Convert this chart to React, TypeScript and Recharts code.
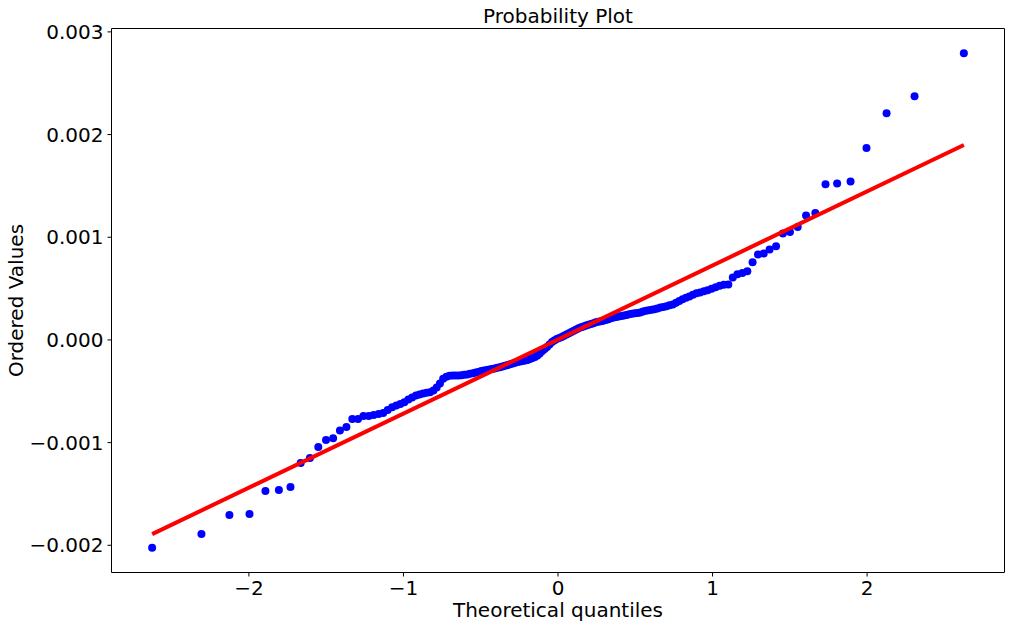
import { Label, Scatter, ScatterChart, XAxis, YAxis } from 'recharts';

// theoretical quantiles (x) and ordered values (y)
const QUANTILES = [
  -2.626, -2.307, -2.126, -1.996, -1.893, -1.806, -1.731, -1.665, -1.605, -1.551,
  -1.501, -1.455, -1.411, -1.369, -1.331, -1.294, -1.259, -1.225, -1.193, -1.161,
  -1.131, -1.102, -1.073, -1.046, -1.02, -0.994, -0.968, -0.944, -0.919, -0.896,
  -0.873, -0.85, -0.828, -0.806, -0.785, -0.764, -0.743, -0.722, -0.702, -0.682,
  -0.663, -0.643, -0.624, -0.606, -0.587, -0.569, -0.55, -0.532, -0.515, -0.497,
  -0.479, -0.461, -0.444, -0.427, -0.41, -0.393, -0.376, -0.359, -0.342, -0.326,
  -0.31, -0.293, -0.277, -0.261, -0.245, -0.229, -0.213, -0.197, -0.181, -0.165,
  -0.149, -0.133, -0.118, -0.102, -0.086, -0.071, -0.055, -0.039, -0.024, -0.008,
  0.008, 0.024, 0.039, 0.055, 0.071, 0.086, 0.102, 0.118, 0.133, 0.149,
  0.165, 0.181, 0.197, 0.213, 0.229, 0.245, 0.261, 0.277, 0.293, 0.31,
  0.326, 0.342, 0.359, 0.376, 0.393, 0.41, 0.427, 0.444, 0.461, 0.479,
  0.497, 0.515, 0.532, 0.55, 0.569, 0.587, 0.606, 0.624, 0.643, 0.663,
  0.682, 0.702, 0.722, 0.743, 0.764, 0.785, 0.806, 0.828, 0.85, 0.873,
  0.896, 0.919, 0.944, 0.968, 0.994, 1.02, 1.046, 1.073, 1.102, 1.131,
  1.161, 1.193, 1.225, 1.259, 1.294, 1.331, 1.369, 1.411, 1.455, 1.501,
  1.551, 1.605, 1.665, 1.731, 1.806, 1.893, 1.996, 2.126, 2.307, 2.626,
];

const ORDERED_VALUES = [
  -2.024e-3, -1.891e-3, -1.705e-3, -1.696e-3, -1.471e-3, -1.461e-3, -1.432e-3, -1.198e-3, -1.149e-3, -1.042e-3,
  -0.974e-3, -0.958e-3, -0.883e-3, -0.847e-3, -0.769e-3, -0.769e-3, -0.74e-3, -0.74e-3, -0.73e-3, -0.722e-3,
  -0.712e-3, -0.683e-3, -0.656e-3, -0.639e-3, -0.624e-3, -0.607e-3, -0.58e-3, -0.561e-3, -0.541e-3, -0.532e-3,
  -0.522e-3, -0.515e-3, -0.509e-3, -0.493e-3, -0.463e-3, -0.424e-3, -0.379e-3, -0.359e-3, -0.349e-3, -0.346e-3,
  -0.346e-3, -0.346e-3, -0.343e-3, -0.34e-3, -0.337e-3, -0.33e-3, -0.324e-3, -0.317e-3, -0.312e-3, -0.302e-3,
  -0.298e-3, -0.293e-3, -0.288e-3, -0.283e-3, -0.278e-3, -0.271e-3, -0.265e-3, -0.259e-3, -0.252e-3, -0.244e-3,
  -0.236e-3, -0.229e-3, -0.222e-3, -0.215e-3, -0.21e-3, -0.205e-3, -0.2e-3, -0.195e-3, -0.185e-3, -0.176e-3,
  -0.166e-3, -0.151e-3, -0.132e-3, -0.107e-3, -0.088e-3, -0.068e-3, -0.044e-3, -0.02e-3, -0.005e-3, 0.01e-3,
  0.02e-3, 0.029e-3, 0.041e-3, 0.054e-3, 0.066e-3, 0.078e-3, 0.09e-3, 0.102e-3, 0.114e-3, 0.124e-3,
  0.132e-3, 0.14e-3, 0.147e-3, 0.155e-3, 0.163e-3, 0.171e-3, 0.177e-3, 0.182e-3, 0.188e-3, 0.195e-3,
  0.202e-3, 0.21e-3, 0.218e-3, 0.224e-3, 0.229e-3, 0.234e-3, 0.239e-3, 0.244e-3, 0.249e-3, 0.254e-3,
  0.259e-3, 0.263e-3, 0.268e-3, 0.278e-3, 0.285e-3, 0.288e-3, 0.293e-3, 0.298e-3, 0.307e-3, 0.317e-3,
  0.32e-3, 0.329e-3, 0.337e-3, 0.346e-3, 0.361e-3, 0.38e-3, 0.395e-3, 0.41e-3, 0.424e-3, 0.439e-3,
  0.454e-3, 0.463e-3, 0.473e-3, 0.483e-3, 0.498e-3, 0.512e-3, 0.527e-3, 0.537e-3, 0.541e-3, 0.607e-3,
  0.639e-3, 0.652e-3, 0.668e-3, 0.756e-3, 0.831e-3, 0.841e-3, 0.88e-3, 0.912e-3, 1.036e-3, 1.052e-3,
  1.1e-3, 1.212e-3, 1.237e-3, 1.517e-3, 1.524e-3, 1.543e-3, 1.868e-3, 2.207e-3, 2.373e-3, 2.792e-3,
];

// least-squares fit line end points
const FIT_X = [-2.626, 2.626];
const FIT_Y = [-1.891e-3, 1.898e-3];

const X_TICKS = [-2, -1, 0, 1, 2];
const Y_TICKS = [-0.002, -0.001, 0, 0.001, 0.002, 0.003];
const X_DOMAIN = [-2.889, 2.889];
const Y_DOMAIN = [-0.002265, 0.003033];

const FONT = "'DejaVu Sans', sans-serif";
const TICK = { fill: '#000', fontSize: 20, fontFamily: FONT };

const minus = (s: string) => s.replace('-', '\u2212');

const points = QUANTILES.map((x, i) => ({ x, y: ORDERED_VALUES[i] }));
const fit = FIT_X.map((x, i) => ({ x, y: FIT_Y[i] }));

function Dot(props: { cx?: number; cy?: number }) {
  return <circle cx={props.cx} cy={props.cy} r={4} fill="#0000ff" />;
}

export default function App() {
  return (
    <div
      style={{
        position: 'absolute',
        left: 0,
        top: 0,
        width: 1011,
        height: 628,
        background: '#fff',
        fontFamily: FONT,
      }}
    >
      <ScatterChart
        width={1011}
        height={628}
        margin={{ top: 27.5, right: 5.5, bottom: 0, left: 0 }}
      >
        {/* top + right axes only close the frame; the fit line is plotted on them (same domains) */}
        <XAxis
          xAxisId="top"
          orientation="top"
          type="number"
          dataKey="x"
          domain={X_DOMAIN}
          height={1}
          tick={false}
          tickLine={false}
          axisLine={{ stroke: '#000' }}
          allowDataOverflow
        >
          <Label value="Probability Plot" position="top" offset={5} fill="#000" fontSize={20} fontFamily={FONT} />
        </XAxis>
        <YAxis
          yAxisId="right"
          orientation="right"
          type="number"
          dataKey="y"
          domain={Y_DOMAIN}
          width={1}
          tick={false}
          tickLine={false}
          axisLine={{ stroke: '#000' }}
          allowDataOverflow
        />
        <XAxis
          type="number"
          dataKey="x"
          domain={X_DOMAIN}
          ticks={X_TICKS}
          tickFormatter={(v: number) => minus(String(v))}
          height={55.5}
          tick={TICK}
          tickSize={4}
          tickMargin={4}
          tickLine={{ stroke: '#000' }}
          axisLine={{ stroke: '#000' }}
          allowDataOverflow
        >
          <Label value="Theoretical quantiles" position="insideBottom" offset={11} fill="#000" fontSize={20} fontFamily={FONT} />
        </XAxis>
        <YAxis
          type="number"
          dataKey="y"
          domain={Y_DOMAIN}
          ticks={Y_TICKS}
          tickFormatter={(v: number) => minus(v.toFixed(3))}
          width={111.5}
          tick={TICK}
          tickSize={4}
          tickMargin={4}
          tickLine={{ stroke: '#000' }}
          axisLine={{ stroke: '#000' }}
          allowDataOverflow
        >
          <Label
            value="Ordered Values"
            angle={-90}
            position="insideLeft"
            offset={16}
            fill="#000"
            fontSize={20}
            fontFamily={FONT}
            style={{ textAnchor: 'middle' }}
          />
        </YAxis>
        <Scatter data={points} shape={<Dot />} isAnimationActive={false} />
        <Scatter
          data={fit}
          xAxisId="top"
          yAxisId="right"
          line={{ stroke: '#ff0000', strokeWidth: 4 }}
          shape={() => <g />}
          isAnimationActive={false}
        />
      </ScatterChart>
    </div>
  );
}
